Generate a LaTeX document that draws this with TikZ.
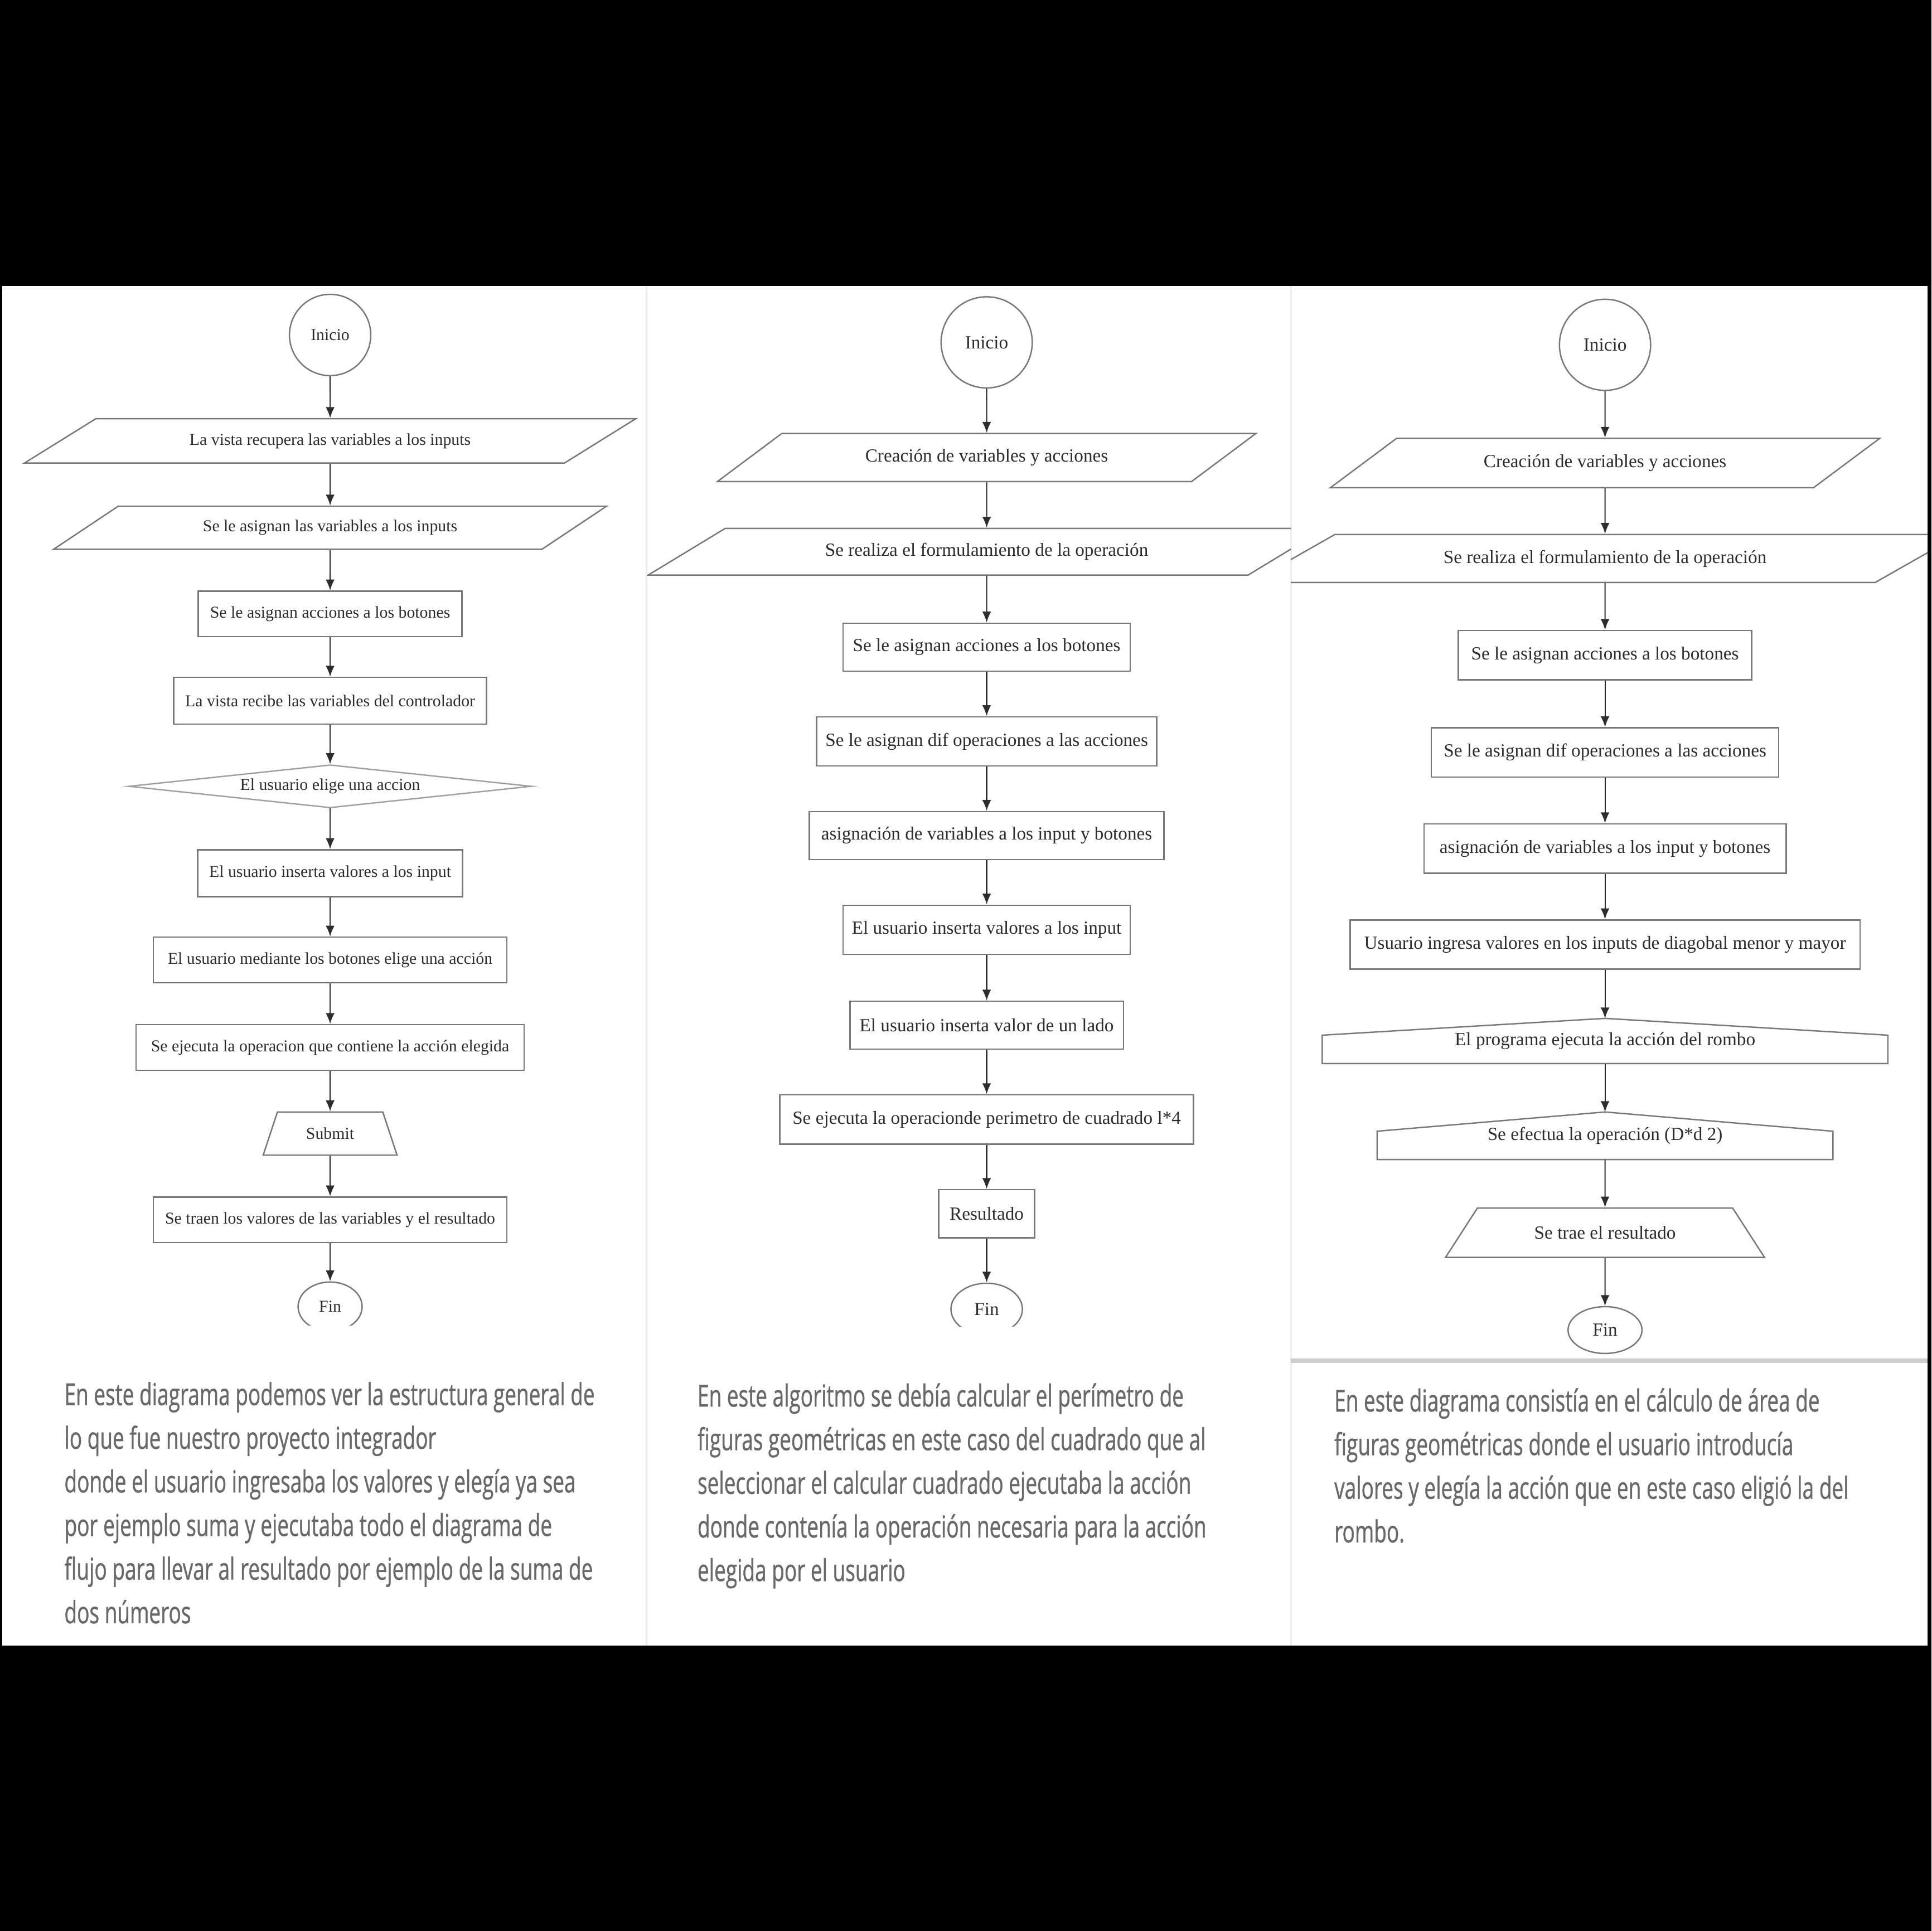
\documentclass[tikz,border=0pt]{standalone}
\usepackage{fontspec}
\setmainfont{Liberation Serif}
\newfontfamily\notefont[FakeStretch=0.68, FakeBold=0.8]{Open Sans}
\usepackage{xcolor}
\usepackage{tikz}
\usetikzlibrary{shapes.geometric, arrows.meta}
\definecolor{edgegray}{RGB}{120,120,120}
\definecolor{inkgray}{RGB}{45,45,45}
\definecolor{notegray}{RGB}{105,105,105}

\tikzset{
  shapebox/.style={draw=edgegray, line width=0.8pt, inner sep=0pt, text=inkgray, font=\fontsize{10.7}{12}\selectfont},
  pone/.style={font=\fontsize{9.6}{11}\selectfont},
  startend/.style={shapebox, circle, minimum size=#1},
  finend/.style 2 args={shapebox, ellipse, minimum width=#1, minimum height=#2},
  proc/.style 2 args={shapebox, rectangle, minimum width=#1, minimum height=#2},
  inout/.style n args={4}{shapebox, trapezium, trapezium left angle=#3, trapezium right angle=#4, trapezium stretches=true, minimum width=#1, minimum height=#2},
  display/.style n args={3}{shapebox, trapezium, trapezium angle=#3, trapezium stretches=true, minimum width=#1, minimum height=#2},
  choice/.style 2 args={shapebox, diamond, aspect=9.3, minimum width=#1, minimum height=#2},
  house/.style 2 args={shapebox, draw=none, minimum width=#1, minimum height=#2},
  flow/.style={draw=inkgray, line width=0.7pt, -{Latex[length=2.2mm,width=1.8mm]}},
  note/.style={anchor=north west, align=left, inner sep=0pt, text=notegray, font=\notefont\fontsize{17.5}{25.2}\selectfont}
}

\begin{document}
\begin{tikzpicture}[x=0.25mm, y=-0.25mm]
\useasboundingbox (0,0) rectangle (1568,1568);
\fill[black] (0,0) rectangle (1568,1568);
\fill[white] (2,232) rectangle (1565,1336);
\draw[gray!15, line width=1pt] (525,232) -- (525,1336);
\draw[gray!15, line width=1pt] (1048,232) -- (1048,1336);
\draw[gray!40, line width=2.5pt] (1048,1105) -- (1565,1105);

% primer diagrama
\begin{scope}
\clip (2,232) rectangle (525,1076);
\node[startend=16.5mm, pone] (i1) at (268,272) {Inicio};
\node[inout={124.25mm}{9mm}{19.4}{160.6}, pone] (a1) at (268,358) {La vista recupera las variables a los inputs};
\node[inout={112.5mm}{8.75mm}{21.3}{158.7}, pone] (a2) at (268,428.5) {Se le asignan las variables a los inputs};
\node[proc={53.5mm}{9.25mm}, pone] (a3) at (268,498.5) {Se le asignan acciones a los botones};
\node[proc={63.5mm}{9.5mm}, pone] (a4) at (268,569) {La vista recibe las variables del controlador};
\node[choice={81.75mm}{8.75mm}, pone, draw=edgegray!70] (a5) at (268,638.5) {El usuario elige una accion};
\node[proc={53.75mm}{9.5mm}, pone] (a6) at (268,709) {El usuario inserta valores a los input};
\node[proc={71.75mm}{9.25mm}, pone] (a7) at (268,779.5) {El usuario mediante los botones elige una acción};
\node[proc={78.75mm}{9.25mm}, pone] (a8) at (268,850.5) {Se ejecuta la operacion que contiene la acción elegida};
\node[display={27.25mm}{8.75mm}{61}, pone] (a9) at (268,920.5) {Submit};
\node[proc={71.75mm}{9.25mm}, pone] (a10) at (268,990.5) {Se traen los valores de las variables y el resultado};
\node[finend={13mm}{10mm}, pone] (f1) at (268,1061) {Fin};
\draw[flow] (i1.south) -- (a1.north);
\draw[flow] (a1.south) -- (a2.north);
\draw[flow] (a2.south) -- (a3.north);
\draw[flow] (a3.south) -- (a4.north);
\draw[flow] (a4.south) -- (a5.north);
\draw[flow] (a5.south) -- (a6.north);
\draw[flow] (a6.south) -- (a7.north);
\draw[flow] (a7.south) -- (a8.north);
\draw[flow] (a8.south) -- (a9.north);
\draw[flow] (a9.south) -- (a10.north);
\draw[flow] (a10.south) -- (f1.north);
\end{scope}

% segundo diagrama: perimetro
\begin{scope}
\clip (525,232) rectangle (1048,1077);
\node[startend=18.5mm] (i2) at (801,278) {Inicio};
\node[inout={109.5mm}{9.75mm}{23.9}{156.1}] (b1) at (801,371.5) {Creación de variables y acciones};
\node[inout={137.5mm}{9.5mm}{19.6}{160.4}] (b2) at (801,448) {Se realiza el formulamiento de la operación};
\node[proc={58.25mm}{9.75mm}] (b3) at (801,525.5) {Se le asignan acciones a los botones};
\node[proc={69mm}{10mm}] (b4) at (801,602) {Se le asignan dif operaciones a las acciones};
\node[proc={72mm}{9.75mm}] (b5) at (801,678.5) {asignación de variables a los input y botones};
\node[proc={58.25mm}{10mm}] (b6) at (801,755) {El usuario inserta valores a los input};
\node[proc={55.5mm}{9.75mm}] (b7) at (801,832.5) {El usuario inserta valor de un lado};
\node[proc={84mm}{10mm}] (b8) at (801,909) {Se ejecuta la operacionde perimetro de cuadrado l*4};
\node[proc={19.5mm}{9.75mm}] (b9) at (801,985.5) {Resultado};
\node[finend={14.5mm}{10.5mm}] (f2) at (801,1063) {Fin};
\draw[flow] (i2.south) -- (b1.north);
\draw[flow] (b1.south) -- (b2.north);
\draw[flow] (b2.south) -- (b3.north);
\draw[flow] (b3.south) -- (b4.north);
\draw[flow] (b4.south) -- (b5.north);
\draw[flow] (b5.south) -- (b6.north);
\draw[flow] (b6.south) -- (b7.north);
\draw[flow] (b7.south) -- (b8.north);
\draw[flow] (b8.south) -- (b9.north);
\draw[flow] (b9.south) -- (f2.north);
\end{scope}

% tercer diagrama: rombo
\begin{scope}
\clip (1048,232) rectangle (1565,1103);
\node[startend=18.5mm] (i3) at (1303,280) {Inicio};
\node[inout={111.75mm}{10mm}{23.7}{156.3}] (c1) at (1303,376) {Creación de variables y acciones};
\node[inout={144.25mm}{9.75mm}{18.6}{161.4}] (c2) at (1303,453.5) {Se realiza el formulamiento de la operación};
\node[proc={59.5mm}{10mm}] (c3) at (1303,532) {Se le asignan acciones a los botones};
\node[proc={70.5mm}{10mm}] (c4) at (1303,611) {Se le asignan dif operaciones a las acciones};
\node[proc={73.5mm}{10mm}] (c5) at (1303,689) {asignación de variables a los input y botones};
\node[proc={103.5mm}{10mm}] (c6) at (1303,767) {Usuario ingresa valores en los inputs de diagobal menor y mayor};
\node[house={114.5mm}{8.875mm}, yshift=-0.5mm] (c7) at (1303,843.25) {El programa ejecuta la acción del rombo};
\draw[edgegray, line width=0.8pt] (c7.south west) -- ([yshift=5.75mm]c7.south west) -- (c7.north) -- ([yshift=5.75mm]c7.south east) -- (c7.south east) -- cycle;
\node[house={92.25mm}{9.375mm}, yshift=-0.25mm] (c8) at (1303,921.25) {Se efectua la operación (D*d 2)};
\draw[edgegray, line width=0.8pt] (c8.south west) -- ([yshift=5.75mm]c8.south west) -- (c8.north) -- ([yshift=5.75mm]c8.south east) -- (c8.south east) -- cycle;
\node[display={64.75mm}{10mm}{36.5}] (c9) at (1303,1001) {Se trae el resultado};
\node[finend={15mm}{9.5mm}] (f3) at (1303,1080) {Fin};
\draw[flow] (i3.south) -- (c1.north);
\draw[flow] (c1.south) -- (c2.north);
\draw[flow] (c2.south) -- (c3.north);
\draw[flow] (c3.south) -- (c4.north);
\draw[flow] (c4.south) -- (c5.north);
\draw[flow] (c5.south) -- (c6.north);
\draw[flow] (c6.south) -- (c7.north);
\draw[flow] (c7.south) -- (c8.north);
\draw[flow] (c8.south) -- (c9.north);
\draw[flow] (c9.south) -- (f3.north);
\end{scope}

% textos
\node[note] (t1) at (52,1122) {En este diagrama podemos ver la estructura general de\\
lo que fue nuestro proyecto integrador\\
donde el usuario ingresaba los valores y elegía ya sea\\
por ejemplo suma y ejecutaba todo el diagrama de\\
flujo para llevar al resultado por ejemplo de la suma de\\
dos números};
\node[note] (t2) at (566,1123) {En este algoritmo se debía calcular el perímetro de\\
figuras geométricas en este caso del cuadrado que al\\
seleccionar el calcular cuadrado ejecutaba la acción\\
donde contenía la operación necesaria para la acción\\
elegida por el usuario};
\node[note] (t3) at (1083,1127) {En este diagrama consistía en el cálculo de área de\\
figuras geométricas donde el usuario introducía\\
valores y elegía la acción que en este caso eligió la del\\
rombo.};
\end{tikzpicture}
\end{document}
